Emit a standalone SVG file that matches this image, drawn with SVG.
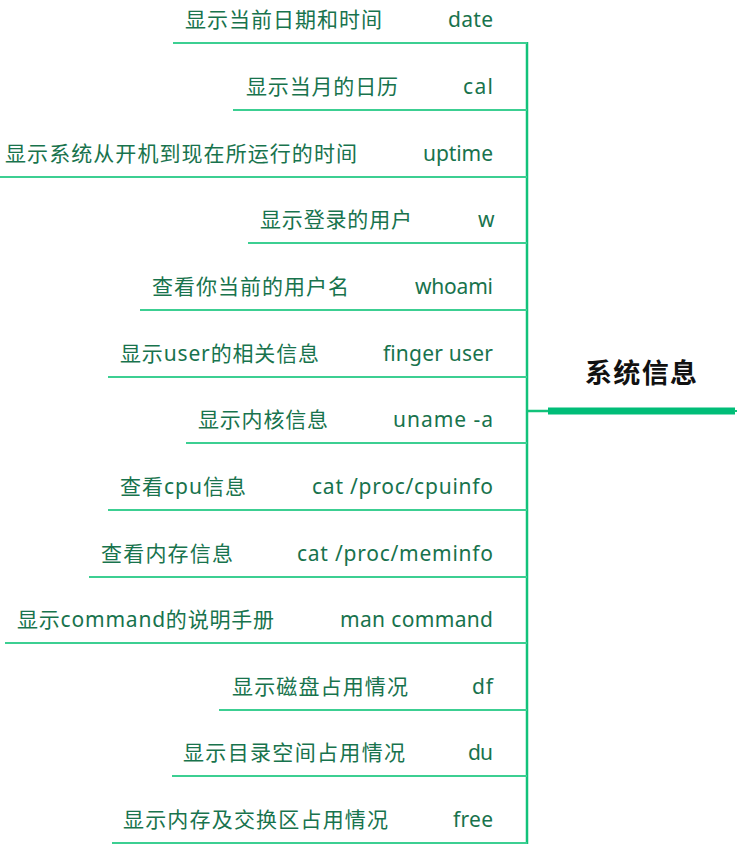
<svg xmlns="http://www.w3.org/2000/svg" width="737" height="851" viewBox="0 0 737 851">
<style>
.t{font-family:"Noto Sans","Noto Sans CJK SC",sans-serif;font-size:21px;fill:#18734d}
.c{font-family:"Noto Sans","Noto Sans CJK SC",sans-serif;font-size:21px;fill:#18734d}
.ln{stroke:#3ccf92;stroke-width:2;fill:none}
.vl{stroke:#12c27a;stroke-width:2.5;fill:none}
.root{font-family:"Noto Sans CJK SC","Noto Sans",sans-serif;font-size:27px;font-weight:bold;fill:#111}
</style>
<rect width="737" height="851" fill="#fff"/>
<g id="connectors">
<line class="vl" x1="527" y1="42" x2="527" y2="844"/>
<line class="vl" x1="527" y1="411" x2="549" y2="411"/>
<line x1="548" y1="411" x2="735" y2="411" stroke="#00bd78" stroke-width="7"/>
<line x1="734" y1="411" x2="737" y2="411" stroke="#12c27a" stroke-width="2"/>
</g>
<g id="root"><text class="root" x="585" y="383" textLength="112">系统信息</text></g>
<g id="n1"><line class="ln" x1="173" y1="43" x2="527" y2="43"/><text class="t" x="185" y="27" textLength="197">显示当前日期和时间</text><text class="c" x="448" y="27" textLength="45">date</text></g>
<g id="n2"><line class="ln" x1="233" y1="110" x2="527" y2="110"/><text class="t" x="246" y="94" textLength="152">显示当月的日历</text><text class="c" x="463" y="94" textLength="30">cal</text></g>
<g id="n3"><line class="ln" x1="0" y1="177" x2="527" y2="177"/><text class="t" x="5" y="161" textLength="352">显示系统从开机到现在所运行的时间</text><text class="c" x="423" y="161" textLength="70">uptime</text></g>
<g id="n4"><line class="ln" x1="248" y1="243" x2="527" y2="243"/><text class="t" x="260" y="227" textLength="152">显示登录的用户</text><text class="c" x="478" y="227" textLength="16">w</text></g>
<g id="n5"><line class="ln" x1="140" y1="310" x2="527" y2="310"/><text class="t" x="152" y="294" textLength="197">查看你当前的用户名</text><text class="c" x="415" y="294" textLength="78">whoami</text></g>
<g id="n6"><line class="ln" x1="108" y1="377" x2="527" y2="377"/><text class="t" x="120" y="361" textLength="199">显示user的相关信息</text><text class="c" x="383" y="361" textLength="110">finger user</text></g>
<g id="n7"><line class="ln" x1="186" y1="443" x2="527" y2="443"/><text class="t" x="198" y="427" textLength="130">显示内核信息</text><text class="c" x="393" y="427" textLength="100">uname -a</text></g>
<g id="n8"><line class="ln" x1="108" y1="510" x2="527" y2="510"/><text class="t" x="120" y="494" textLength="126">查看cpu信息</text><text class="c" x="312" y="494" textLength="181">cat /proc/cpuinfo</text></g>
<g id="n9"><line class="ln" x1="89" y1="577" x2="527" y2="577"/><text class="t" x="101" y="561" textLength="132">查看内存信息</text><text class="c" x="297" y="561" textLength="196">cat /proc/meminfo</text></g>
<g id="n10"><line class="ln" x1="5" y1="643" x2="527" y2="643"/><text class="t" x="17" y="627" textLength="257">显示command的说明手册</text><text class="c" x="340" y="627" textLength="153">man command</text></g>
<g id="n11"><line class="ln" x1="219" y1="710" x2="527" y2="710"/><text class="t" x="232" y="694" textLength="176">显示磁盘占用情况</text><text class="c" x="472" y="694" textLength="21">df</text></g>
<g id="n12"><line class="ln" x1="172" y1="776" x2="527" y2="776"/><text class="t" x="183" y="760" textLength="222">显示目录空间占用情况</text><text class="c" x="468" y="760" textLength="25">du</text></g>
<g id="n13"><line class="ln" x1="112" y1="843" x2="527" y2="843"/><text class="t" x="123" y="827" textLength="265">显示内存及交换区占用情况</text><text class="c" x="453" y="827" textLength="40">free</text></g>
</svg>
